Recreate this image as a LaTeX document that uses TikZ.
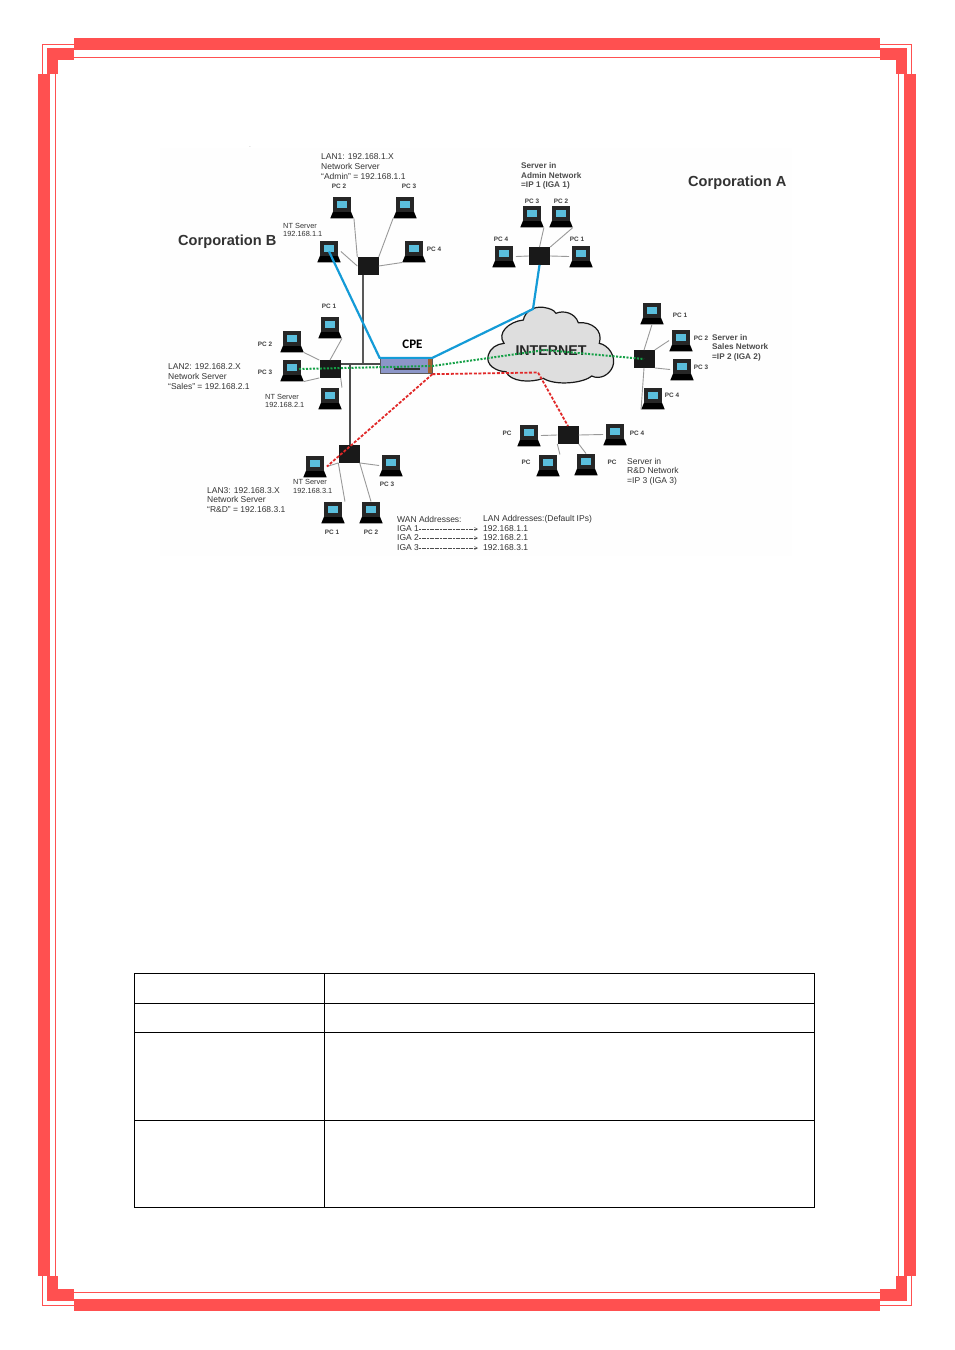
\documentclass[tikz,border=0pt]{standalone}
\usepackage{fontspec}
\setmainfont{Liberation Sans}
\newfontfamily\cpefont{Carlito}
\usetikzlibrary{arrows.meta}

\definecolor{edgered}{RGB}{255,80,80}
\definecolor{linkblue}{RGB}{20,155,215}
\definecolor{linkgreen}{RGB}{20,160,70}
\definecolor{linkred}{RGB}{225,40,40}
\definecolor{pcscreen}{RGB}{90,190,220}
\definecolor{cpeface}{RGB}{140,150,200}
\definecolor{cpeside}{RGB}{165,95,45}

\begin{document}
\begin{tikzpicture}
		[x=1pt,y=-1pt,
		pc/.style={minimum width=23.5pt,minimum height=21.6pt,inner sep=0pt,yshift=-3.5pt,
			path picture={
				\begin{scope}[shift={(path picture bounding box.center)}]
					\fill[black] (-9,4.2) -- (9,4.2) -- (11.7,10.8) -- (-11.7,10.8) -- cycle;
					\fill[black!85] (-9,-10.8) rectangle (9,4.2);
					\fill[pcscreen] (-5.5,-7) rectangle (5,0);
				\end{scope}
			}},
		hub/.style={minimum width=21pt,minimum height=17.5pt,inner sep=0pt,fill=black!90},
		wire/.style={draw=black!40,line width=.9pt},
		bus/.style={draw=black!65,line width=2.4pt},
		busthin/.style={draw=black!70,line width=1.4pt},
		lbl/.style={text=black!80,font=\fontsize{8.5}{9.6}\selectfont,align=left,anchor=west,inner sep=0pt},
		lblb/.style={lbl,font=\bfseries\fontsize{8.2}{9.6}\selectfont,text=black!70},
		pclbl/.style={text=black!75,font=\bfseries\fontsize{6.4}{8}\selectfont,inner sep=0pt},
		ntlbl/.style={text=black!80,font=\fontsize{7.4}{8.2}\selectfont,align=left,anchor=west,inner sep=0pt},
		corp/.style={text=black!80,font=\bfseries\fontsize{14.6}{16}\selectfont,anchor=west,inner sep=0pt},
		bar/.style={fill=edgered,draw=none},
		thinbar/.style={draw=edgered,line width=.8pt}]

		% page edge
		\useasboundingbox (0,0) rectangle (954,1350);
		\fill[white] (0,0) rectangle (954,1350);
		\fill[black!.5] (160,148) rectangle (792,556);

		\foreach \xa/\ya/\xb/\yb in {74/38/880/50, 74/1299/880/1311, 38/74/50/1276, 904/74/916/1276,
			47/48/74/60, 47/48/58/74, 880/48/907/60, 896/48/907/74,
			47/1289/74/1301, 47/1276/58/1301, 880/1289/907/1301, 896/1276/907/1301}
			\fill[bar] (\xa,\ya) rectangle (\xb,\yb);

		\draw[thinbar] (42.5,74) -- (42.5,44.5) -- (74,44.5);
		\draw[thinbar] (880,44.5) -- (911.5,44.5) -- (911.5,74);
		\draw[thinbar] (42.5,1276) -- (42.5,1305) -- (74,1305);
		\draw[thinbar] (880,1305) -- (911.5,1305) -- (911.5,1276);
		\draw[thinbar] (74,57.5) -- (880,57.5);
		\draw[thinbar] (74,1292.5) -- (880,1292.5);
		\draw[thinbar] (55.5,74) -- (55.5,1276);
		\draw[thinbar] (898.5,74) -- (898.5,1276);

		% table
		\draw[black,line width=.7pt] (134.5,973.5) rectangle (814.5,1207.5);
		\foreach \yr in {1003.5,1032.5,1120.5}
			\draw[black,line width=.7pt] (134.5,\yr) -- (814.5,\yr);
		\draw[black,line width=.7pt] (324.5,973.5) -- (324.5,1207.5);

		% cloud
		\begin{scope}[shift={(480,300)},x=.3333pt,y=-.3333pt]
			\draw[fill=black!13,draw=black!90,line width=1.2pt] (130,60) .. controls (135,35) and (160,18) .. (190,22)
				.. controls (210,25) and (222,30) .. (228,40) .. controls (250,30) and (285,38) .. (295,68)
				.. controls (335,65) and (370,90) .. (358,130) .. controls (385,135) and (410,170) .. (398,200)
				.. controls (388,225) and (360,240) .. (335,228) .. controls (310,250) and (225,258) .. (190,235)
				.. controls (150,250) and (90,245) .. (78,215) .. controls (50,215) and (15,195) .. (25,165)
				.. controls (30,145) and (50,132) .. (72,130) .. controls (50,100) and (85,65) .. (130,60) -- cycle;
		\end{scope}

		% LAN 1
		\node[pc] (pcB2) at (342,204) {};
		\node[pc] (pcB3) at (405,204) {};
		\node[pc] (ntB) at (329,248) {};
		\node[pc] (pcB4) at (414,248) {};
		\node[hub] (hubB) at (368,266) {};

		% LAN 2
		\node[pc] (pcS1) at (330,324) {};
		\node[pc] (pcS2) at (292,338) {};
		\node[pc] (pcS3) at (292,367) {};
		\node[pc] (ntS) at (330,395) {};
		\node[hub] (hubS) at (330,369) {};

		% LAN 3
		\node[pc] (ntR) at (315,463) {};
		\node[pc] (pcR3) at (391,462) {};
		\node[pc] (pcR1) at (333,509) {};
		\node[pc] (pcR2) at (371,509) {};
		\node[hub] (hubR) at (349,454) {};

		% admin
		\node[pc] (pcA3) at (532,213) {};
		\node[pc] (pcA2) at (561,213) {};
		\node[pc] (pcA4) at (504,253) {};
		\node[pc] (pcA1) at (581,253) {};
		\node[hub] (hubA) at (539.5,256) {};

		% sales
		\node[pc] (pcL1) at (652,310) {};
		\node[pc] (pcL2) at (681,337) {};
		\node[pc] (pcL3) at (682,366) {};
		\node[pc] (pcL4) at (653,395) {};
		\node[hub] (hubL) at (644,359) {};

		% research
		\node[pc] (pcD1) at (529,432) {};
		\node[pc] (pcD4) at (615,431) {};
		\node[pc] (pcD2) at (548,462) {};
		\node[pc] (pcD3) at (586,461) {};
		\node[hub] (hubD) at (568,435) {};

		\foreach \from/\to in {hubB.north west/pcB2.south east, hubB.north east/pcB3.south west, hubB.west/ntB.east, hubB.east/pcB4.south west,
			hubS.north/pcS1.south east, hubS.north west/pcS2.south east, hubS.south west/pcS3.south east, hubS.south east/ntS.north east,
			hubR.south west/ntR.east, hubR.south east/pcR3.west, hubR.south west/pcR1.north east, hubR.south east/pcR2.north,
			hubA.north/pcA3.south east, hubA.north east/pcA2.south east, hubA.west/pcA4.east, hubA.east/pcA1.west,
			hubL.north/pcL1.south, hubL.north east/pcL2.west, hubL.south east/pcL3.west, hubL.south/pcL4.south west,
			hubD.west/pcD1.east, hubD.east/pcD4.west, hubD.south west/pcD2.north east, hubD.south east/pcD3.north}
			\path (\from) edge [wire] (\to);

		% cpe box
		\node[minimum width=52pt,minimum height=15.5pt,inner sep=0pt,fill=cpeface,draw=black!65,line width=.8pt,
			path picture={
				\fill[cpeside] ([xshift=-4pt]path picture bounding box.north east) rectangle (path picture bounding box.south east);
				\fill[black!80] ([xshift=-12pt,yshift=-2pt]path picture bounding box.center) rectangle ([xshift=14pt,yshift=-4pt]path picture bounding box.center);
			}] (cpe) at (406,366) {};

		\coordinate (busB) at (363,364);
		\coordinate (busC) at (350,364);
		\draw[bus] (hubB.south -| busB) -- (busB);
		\draw[busthin] (hubS.east |- busB) -- (cpe.west |- busB);
		\draw[busthin] (busC) -- (hubR.north -| busC);

		\node[text=black!85,font=\bfseries\fontsize{14.2}{16}\selectfont,inner sep=0pt] (internetlbl) at (551,351) {INTERNET};

		% links
		\coordinate (topcloud) at (533,309);
		\coordinate (redbend) at (538,372.5);
		\coordinate (greenmid) at (545,350);
		\coordinate (greenstart) at (299,369);
		\draw[linkblue,line width=2.2pt] (ntB.center) -- (cpe.north west) -- (cpe.north east) -- (topcloud) -- (hubA.south);
		\draw[linkgreen,line width=2pt,dash pattern=on 2pt off 1.5pt] (greenstart) -- (cpe.east) -- (greenmid) -- (hubL.center);
		\draw[linkred,line width=1.8pt,dash pattern=on 3pt off 1.6pt] (cpe.south east) -- (redbend) -- (hubD.north);
		\draw[linkred,line width=1.8pt,dash pattern=on 3pt off 1.6pt] (cpe.south east) -- (ntR.east);

		% texts
		\node[font=\cpefont\bfseries\fontsize{13}{14}\selectfont,inner sep=0pt] (cpelbl) at (412.5,344) {CPE};
		\node[corp] (corpb) at (178,242) {Corporation B};
		\node[corp] (corpa) at (688,183) {Corporation A};
		\node[text=black!60,font=\fontsize{5}{5}\selectfont,inner sep=0pt] (speck) at (250,147) {.};

		\node[lbl] (lanB) at (321,166.5) {LAN1: 192.168.1.X\\Network Server\\“Admin” = 192.168.1.1};
		\node[lbl] (lanS) at (168,376.5) {LAN2: 192.168.2.X\\Network Server\\“Sales” = 192.168.2.1};
		\node[lbl] (lanR) at (207,500) {LAN3: 192.168.3.X\\Network Server\\“R\&D” = 192.168.3.1};
		\node[lblb] (srvA) at (521,176) {Server in\\Admin Network\\=IP 1 (IGA 1)};
		\node[lblb] (srvL) at (712,347.5) {Server in\\Sales Network\\=IP 2 (IGA 2)};
		\node[lbl] (srvD) at (627,471.5) {Server in\\R\&D Network\\=IP 3 (IGA 3)};
		\node[ntlbl] (ntlB) at (283,230) {NT Server\\192.168.1.1};
		\node[ntlbl] (ntlS) at (265,401) {NT Server\\192.168.2.1};
		\node[ntlbl] (ntlR) at (293,486.5) {NT Server\\192.168.3.1};

		\foreach \xl/\yl/\tl [count=\i] in {339/186/PC 2, 409/186/PC 3, 434/249/PC 4, 329/306/PC 1, 265/344/PC 2, 265/372/PC 3,
			387/484/PC 3, 332/532/PC 1, 371/532/PC 2, 532/201/PC 3, 561/201/PC 2, 501/239/PC 4, 577/239/PC 1,
			680/315/PC 1, 701/338/PC 2, 701/367/PC 3, 672/395/PC 4, 507/433/PC, 637/433/PC 4, 526/462/PC, 612/462/PC}
			\node[pclbl] (pclb\i) at (\xl,\yl) {\tl};

		% address list
		\node[lbl] (wan) at (397,519) {WAN Addresses:};
		\node[lbl] (lan) at (483,519) {LAN Addresses:(Default IPs)};
		\foreach \n/\yy in {1/529,2/538,3/548} {
			\node[lbl] (iga\n) at (397,\yy) {IGA \n};
			\node[lbl] (ip\n) at (483,\yy) {192.168.\n.1};
			\draw[black!70,line width=.5pt,dash pattern=on 2pt off .6pt,-{Straight Barb[length=3pt,width=3pt]},shorten >=5pt] (iga\n) -- (ip\n);
		}

	\end{tikzpicture}
\end{document}
